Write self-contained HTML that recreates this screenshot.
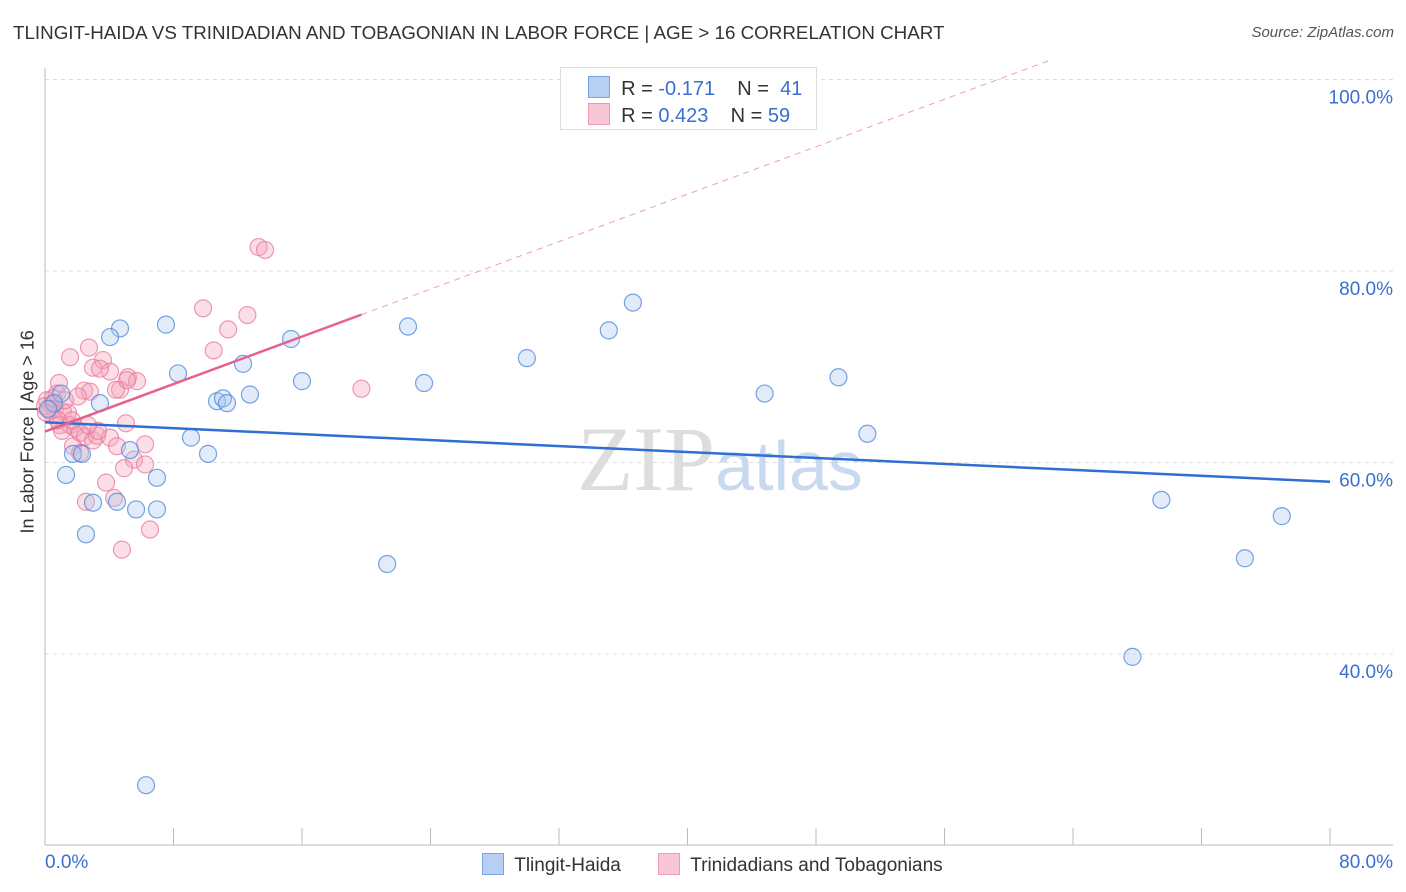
<!DOCTYPE html>
<html><head><meta charset="utf-8">
<style>
body{margin:0;background:#fff;font-family:"Liberation Sans",sans-serif;}
#wrap{position:relative;width:1406px;height:892px;overflow:hidden;}
.t{position:absolute;white-space:nowrap;}
</style></head>
<body>
<div id="wrap">
<div class="t" style="left:13px;top:22px;font-size:18.8px;color:#333;">TLINGIT-HAIDA VS TRINIDADIAN AND TOBAGONIAN IN LABOR FORCE | AGE &gt; 16 CORRELATION CHART</div>
<div class="t" style="right:12px;top:24px;font-size:15px;color:#555;font-style:italic;">Source: ZipAtlas.com</div>
<svg id="svg" width="1406" height="892" style="position:absolute;left:0;top:0"></svg>
</div>
<script>
const yTicks=[100,80,60,40];
const yTickLabels=["100.0%","80.0%","60.0%","40.0%"];
const xTicks=[0,8,16,24,32,40,48,56,64,72,80];
const blueX=[4.67,4.05,7.53,8.28,1.0,3.42,0.56,0.19,9.09,10.15,10.71,11.08,11.33,12.33,12.76,15.32,16.0,1.74,2.30,1.31,5.29,6.97,2.99,4.48,5.67,6.97,2.55,6.29,21.3,22.6,23.6,30.0,35.1,36.6,44.8,49.4,51.2,69.5,74.7,77.0,67.7];
const blueY=[74.0,73.1,74.4,69.3,67.2,66.2,66.2,65.6,62.6,60.9,66.4,66.7,66.2,70.3,67.1,72.9,68.5,60.9,60.9,58.7,61.3,58.4,55.8,55.9,55.1,55.1,52.5,26.3,49.4,74.2,68.3,70.9,73.8,76.7,67.2,68.9,63.0,56.1,50.0,54.4,39.7];
const pinkX=[13.3,13.7,9.84,12.6,11.4,10.5,1.56,2.74,3.61,2.99,4.05,5.17,5.73,4.67,4.42,2.43,2.80,2.05,0.87,0.75,0.12,0.44,0.62,1.12,1.43,0.93,1.56,1.87,2.18,2.49,2.99,3.24,4.05,4.48,1.74,2.18,6.23,5.54,6.23,4.92,5.04,3.80,2.55,4.30,6.54,4.79,19.7,0.31,0.0,0.50,1.25,3.30,2.68,1.06,0.81,3.42,5.11,1.68,0.06];
const pinkY=[82.5,82.2,76.1,75.4,73.9,71.7,71.0,72.0,70.7,69.9,69.5,68.9,68.5,67.6,67.6,67.5,67.4,66.9,68.3,67.2,66.5,66.1,65.6,65.3,65.2,63.9,63.9,63.6,63.1,62.7,62.3,62.8,62.6,61.7,61.7,61.0,61.9,60.3,59.8,59.4,64.1,57.9,55.9,56.3,53.0,50.9,67.7,65.4,65.9,66.7,66.5,63.3,63.9,63.3,64.4,69.8,68.6,64.4,65.2];

const svg=document.getElementById('svg');const NS="http://www.w3.org/2000/svg";
const X0=45,X1=1330,PR=1393,PT=68,PB=845;
const xs=v=>X0+v*(X1-X0)/80;
const ys=v=>79.5+(100-v)*9.575;
function mk(tag,attrs,parent){const e=document.createElementNS(NS,tag);for(const k in attrs)e.setAttribute(k,attrs[k]);(parent||svg).appendChild(e);return e;}
yTicks.forEach((t,i)=>{
 const g=mk('line',{x1:X0,x2:PR,y1:ys(t),y2:ys(t),stroke:'#ddd','stroke-dasharray':'4,4'});
 
 
 const l=mk('text',{x:PR,y:ys(t)+24,'text-anchor':'end','font-size':19,fill:'#3a6fd0'});
 l.textContent=yTickLabels[i];
 
 
});
const ya=mk('line',{x1:X0,x2:X0,y1:PT,y2:PB,stroke:'#bbb'});


const xa=mk('line',{x1:X0,x2:PR,y1:PB,y2:PB,stroke:'#bbb'});


xTicks.forEach(t=>{
 const tk=mk('line',{x1:xs(t),x2:xs(t),y1:PB-17,y2:PB,stroke:'#bbb'});
 
 
});
const wm=mk('text',{x:720,y:490,'text-anchor':'middle','font-size':92,'font-family':'Liberation Serif, serif'});


wm.innerHTML='<tspan fill="#ddd">ZIP</tspan><tspan fill="#c9d9f0" font-family="Liberation Sans, sans-serif" font-size="70">atlas</tspan>';
function fit(xa,ya){const n=xa.length;let mx=0,my=0;for(let i=0;i<n;i++){mx+=xa[i];my+=ya[i];}mx/=n;my/=n;let sxy=0,sxx=0;for(let i=0;i<n;i++){sxy+=(xa[i]-mx)*(ya[i]-my);sxx+=(xa[i]-mx)**2;}const b=sxy/sxx;return [my-b*mx,b];}
function dots(X,Y,fill,stroke,name){X.forEach((x,i)=>{const c=mk('circle',{cx:xs(x),cy:ys(Y[i]),r:8.5,fill:fill,'fill-opacity':0.35,stroke:stroke,'stroke-opacity':0.75,'stroke-width':1.2});
 
 });}
dots(pinkX,pinkY,'#f4a0b8','#e87a9c','pink-point');
dots(blueX,blueY,'#a8c6ef','#4a86d8','blue-point');
const [ba,bb]=fit(blueX,blueY);
const bl=mk('line',{x1:xs(0),y1:ys(ba),x2:xs(80),y2:ys(ba+bb*80),stroke:'#2f6fd4','stroke-width':2.5});


const [pa,pb]=fit(pinkX,pinkY);
const pxm=Math.max(...pinkX);
const pl=mk('line',{x1:xs(0),y1:ys(pa),x2:xs(pxm),y2:ys(pa+pb*pxm),stroke:'#e8608c','stroke-width':2.5});


const xe=(102-pa)/pb;
const pd=mk('line',{x1:xs(pxm),y1:ys(pa+pb*pxm),x2:xs(xe),y2:ys(102),stroke:'#eaa0b8','stroke-width':1,'stroke-dasharray':'6,5'});


</script>
<div class="t" style="left:560px;top:67px;width:255px;height:61px;border:1px solid #ddd;background:#fff;font-size:20px;color:#333;">
 <div style="position:absolute;left:27px;top:8px;"><span style="display:inline-block;width:20px;height:20px;background:#b6cff3;border:1px solid #7aa3e0;vertical-align:-3px"></span>&nbsp; R = <span style="color:#3a6fd0">-0.171</span>&nbsp;&nbsp;&nbsp; N = &nbsp;<span style="color:#3a6fd0">41</span></div>
 <div style="position:absolute;left:27px;top:35px;"><span style="display:inline-block;width:20px;height:20px;background:#f8c6d4;border:1px solid #ec9ab5;vertical-align:-3px"></span>&nbsp; R = <span style="color:#3a6fd0">0.423</span>&nbsp;&nbsp;&nbsp; N = <span style="color:#3a6fd0">59</span></div>
</div>
<div class="t" style="left:-52px;top:443px;font-size:18px;color:#333;transform:rotate(-90deg);width:160px;text-align:center;">In Labor Force | Age &gt; 16</div>
<div class="t" style="left:45px;top:852px;font-size:19px;color:#3a6fd0;">0.0%</div>
<div class="t" style="right:13px;top:852px;font-size:19px;color:#3a6fd0;">80.0%</div>
<div class="t" style="left:482px;top:853px;font-size:19px;color:#333;"><span style="display:inline-block;width:20px;height:20px;background:#b6cff3;border:1px solid #7aa3e0;vertical-align:-4px"></span>&nbsp; Tlingit-Haida</div>
<div class="t" style="left:658px;top:853px;font-size:19px;color:#333;"><span style="display:inline-block;width:20px;height:20px;background:#f8c6d4;border:1px solid #ec9ab5;vertical-align:-4px"></span>&nbsp; Trinidadians and Tobagonians</div>
</body></html>
